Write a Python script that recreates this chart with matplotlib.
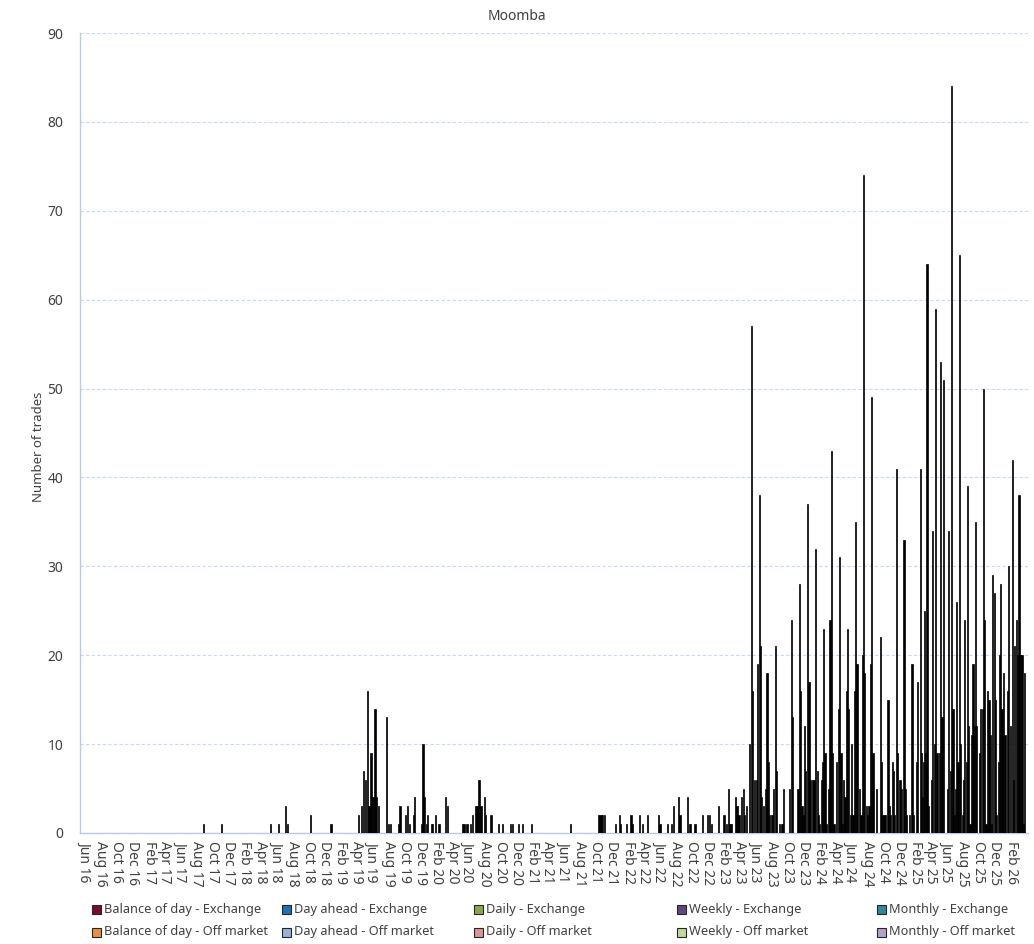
import matplotlib
matplotlib.use('Agg')
import matplotlib.pyplot as plt
from matplotlib.patches import Rectangle
import pandas as pd

plt.rcParams['font.family'] = ['Noto Sans', 'DejaVu Sans']

title = 'Moomba'
y_label = 'Number of trades'

series_names = ['Balance of day - Exchange', 'Day ahead - Exchange', 'Daily - Exchange',
                'Weekly - Exchange', 'Monthly - Exchange',
                'Balance of day - Off market', 'Day ahead - Off market', 'Daily - Off market',
                'Weekly - Off market', 'Monthly - Off market']
series_colours = ['#7b0c2a', '#2070b4', '#8aa84a', '#60497a', '#31859c',
                  '#e98f3f', '#95b3d7', '#d99694', '#c3d69b', '#b3a2c7']

# sparse trading, 2017 - Mar 2023
early_dates = ['2017-08-28', '2017-11-05', '2018-05-10', '2018-06-10', '2018-07-07', '2018-07-12',
               '2018-10-09', '2018-12-26', '2019-04-11', '2019-04-23', '2019-04-28', '2019-05-06',
               '2019-05-14', '2019-05-20', '2019-05-23', '2019-05-28', '2019-06-03', '2019-06-07',
               '2019-06-12', '2019-06-17', '2019-06-25', '2019-07-25', '2019-08-02', '2019-08-11',
               '2019-09-10', '2019-09-15', '2019-10-05', '2019-10-14', '2019-10-20', '2019-11-05',
               '2019-11-11', '2019-12-08', '2019-12-12', '2019-12-17', '2019-12-26', '2019-12-30',
               '2020-01-12', '2020-01-16', '2020-01-29', '2020-02-11', '2020-03-07', '2020-03-13',
               '2020-05-11', '2020-05-16', '2020-05-28', '2020-06-11', '2020-06-18', '2020-06-30',
               '2020-07-05', '2020-07-10', '2020-07-15', '2020-07-20', '2020-08-01', '2020-08-06',
               '2020-08-27', '2020-09-26', '2020-10-11', '2020-11-11', '2020-11-16', '2020-12-11',
               '2020-12-24', '2021-01-30', '2021-06-27', '2021-10-11', '2021-10-17', '2021-10-22',
               '2021-10-28', '2021-11-04', '2021-12-16', '2021-12-29', '2022-01-03', '2022-01-27',
               '2022-02-12', '2022-02-16', '2022-03-15', '2022-03-28', '2022-04-16', '2022-05-28',
               '2022-06-03', '2022-07-02', '2022-07-17', '2022-07-24', '2022-08-13', '2022-08-18',
               '2022-09-17', '2022-09-22', '2022-09-28', '2022-10-14', '2022-11-13', '2022-12-02',
               '2022-12-07', '2022-12-17', '2023-01-13', '2023-02-02', '2023-02-12', '2023-02-18',
               '2023-02-23', '2023-02-28', '2023-03-03', '2023-03-17', '2023-03-23', '2023-03-31']
early_trades = [1, 1, 1, 1, 3, 1,
                2, 1, 2, 3, 7, 6,
                16, 3, 3, 9, 4, 4,
                14, 4, 3, 13, 1, 1,
                1, 3, 2, 3, 1, 2,
                4, 1, 10, 4, 1, 2,
                1, 1, 2, 1, 4, 3,
                1, 1, 1, 1, 2, 3,
                3, 6, 6, 3, 4, 2,
                2, 1, 1, 1, 1, 1,
                1, 1, 1, 2, 2, 2,
                2, 2, 1, 2, 1, 1,
                2, 1, 2, 1, 2, 2,
                1, 1, 1, 3, 4, 2,
                4, 1, 1, 1, 2, 2,
                2, 1, 3, 2, 1, 5,
                1, 1, 1, 4, 3, 2]

# busy trading, Apr 2023 onwards
recent_dates = ['2023-04-11', '2023-04-17', '2023-04-21', '2023-04-30', '2023-05-11', '2023-05-17',
                '2023-05-22', '2023-05-30', '2023-06-05', '2023-06-11', '2023-06-16', '2023-06-22',
                '2023-06-26', '2023-07-01', '2023-07-11', '2023-07-16', '2023-07-22', '2023-07-26',
                '2023-08-01', '2023-08-05', '2023-08-11', '2023-08-17', '2023-08-21', '2023-09-01',
                '2023-09-11', '2023-09-18', '2023-10-11', '2023-10-16', '2023-10-21', '2023-11-11',
                '2023-11-16', '2023-11-22', '2023-11-26', '2023-12-01', '2023-12-07', '2023-12-10',
                '2023-12-18', '2023-12-23', '2023-12-30', '2024-01-05', '2024-01-11', '2024-01-18',
                '2024-01-23', '2024-01-28', '2024-02-02', '2024-02-07', '2024-02-12', '2024-02-17',
                '2024-02-22', '2024-02-27', '2024-03-05', '2024-03-12', '2024-03-18', '2024-03-22',
                '2024-03-27', '2024-04-07', '2024-04-13', '2024-04-18', '2024-04-23', '2024-04-28',
                '2024-05-03', '2024-05-08', '2024-05-13', '2024-05-18', '2024-05-23', '2024-05-28',
                '2024-06-03', '2024-06-08', '2024-06-13', '2024-06-18', '2024-06-23', '2024-07-03',
                '2024-07-08', '2024-07-13', '2024-07-18', '2024-07-23', '2024-07-28', '2024-08-03',
                '2024-08-08', '2024-08-13', '2024-08-18', '2024-08-23', '2024-09-04', '2024-09-19',
                '2024-09-24', '2024-09-28', '2024-10-04', '2024-10-09', '2024-10-19', '2024-10-24',
                '2024-10-29', '2024-11-04', '2024-11-09', '2024-11-14', '2024-11-19', '2024-11-24',
                '2024-12-04', '2024-12-09', '2024-12-19', '2024-12-24', '2024-12-29', '2025-01-09',
                '2025-01-19', '2025-01-24', '2025-02-04', '2025-02-09', '2025-02-20', '2025-02-24',
                '2025-02-28', '2025-03-02', '2025-03-07', '2025-03-12', '2025-03-17', '2025-03-23',
                '2025-04-04', '2025-04-08', '2025-04-13', '2025-04-19', '2025-04-24', '2025-05-03',
                '2025-05-08', '2025-05-13', '2025-05-19', '2025-06-03', '2025-06-08', '2025-06-14',
                '2025-06-19', '2025-06-24', '2025-06-29', '2025-07-04', '2025-07-08', '2025-07-13',
                '2025-07-19', '2025-07-24', '2025-07-29', '2025-08-03', '2025-08-08', '2025-08-13',
                '2025-08-18', '2025-08-23', '2025-08-28', '2025-09-03', '2025-09-08', '2025-09-13',
                '2025-09-18', '2025-09-23', '2025-10-03', '2025-10-08', '2025-10-13', '2025-10-18',
                '2025-10-23', '2025-10-28', '2025-11-03', '2025-11-08', '2025-11-13', '2025-11-18',
                '2025-11-23', '2025-11-28', '2025-12-03', '2025-12-08', '2025-12-13', '2025-12-18',
                '2025-12-23', '2025-12-28', '2026-01-03', '2026-01-08', '2026-01-18', '2026-01-23',
                '2026-01-28', '2026-02-05', '2026-02-10', '2026-02-15', '2026-02-20', '2026-02-25',
                '2026-03-03', '2026-03-08', '2026-03-14', '2026-03-20', '2026-03-25']
recent_trades = [4, 5, 2, 3, 10, 57,
                 16, 6, 6, 19, 38, 21,
                 4, 3, 5, 18, 8, 2,
                 2, 2, 5, 21, 7, 1,
                 1, 5, 5, 24, 13, 5,
                 28, 16, 3, 2, 12, 7,
                 37, 17, 6, 6, 6, 32,
                 7, 2, 1, 6, 8, 23,
                 9, 1, 5, 24, 43, 9,
                 1, 8, 14, 31, 9, 1,
                 6, 4, 16, 23, 14, 2,
                 10, 2, 16, 35, 19, 5,
                 2, 20, 74, 18, 3, 2,
                 3, 19, 49, 9, 5, 22,
                 8, 2, 2, 2, 15, 3,
                 2, 8, 7, 2, 41, 9,
                 6, 5, 33, 5, 2, 2,
                 19, 2, 8, 17, 41, 9,
                 4, 8, 25, 9, 64, 3,
                 6, 34, 10, 59, 9, 9,
                 53, 13, 51, 5, 34, 7,
                 84, 14, 2, 5, 26, 8,
                 65, 10, 2, 6, 24, 8,
                 39, 12, 1, 11, 19, 12,
                 35, 12, 9, 14, 14, 50,
                 24, 1, 16, 15, 11, 1,
                 29, 27, 15, 2, 8, 20,
                 28, 14, 18, 11, 16, 30,
                 12, 42, 6, 21, 24, 20,
                 38, 20, 20, 1, 18]

dates = pd.to_datetime(early_dates + recent_dates)
trades = early_trades + recent_trades

text_col = '#404040'
axis_col = '#b8cce4'

fig = plt.figure(figsize=(10.34, 9.44), dpi=100)
ax = fig.add_axes([80 / 1034, 1 - 833 / 944, 948 / 1034, 800 / 944])

ax.bar(dates, trades, width=4.5, color='black', edgecolor='black', linewidth=0.5, zorder=3)

ax.set_xlim(pd.Timestamp('2016-05-13'), pd.Timestamp('2026-04-06'))
ax.set_ylim(0, 90)
ax.set_yticks(range(0, 91, 10))
ticks = pd.date_range('2016-06-01', '2026-02-01', freq='2MS')
ax.set_xticks(ticks)
ax.set_xticklabels([t.strftime('%b %y') for t in ticks], rotation=270)

ax.tick_params(axis='both', length=0, labelsize=10, colors=text_col)
ax.tick_params(axis='y', pad=12)
ax.tick_params(axis='x', pad=6)
ax.yaxis.grid(True, color='#c6d9f1', linestyle=(0, (3, 2)), linewidth=0.8)
ax.set_axisbelow(True)
for s in ['top', 'right']:
    ax.spines[s].set_visible(False)
for s in ['left', 'bottom']:
    ax.spines[s].set_color(axis_col)
    ax.spines[s].set_linewidth(1.0)

fig.text(517 / 1034, 1 - 16 / 944, title, ha='center', va='center', fontsize=10, color=text_col)
fig.text(38 / 1034, 1 - 447 / 944, y_label, ha='center', va='center', rotation=90,
         fontsize=9.5, color=text_col)

# legend, two rows of five
col_x = [92, 282, 474, 677, 877]
row_y = [909, 932]
for i, (name, col) in enumerate(zip(series_names, series_colours)):
    r, c = divmod(i, 5)
    x0 = col_x[c] / 1034
    y0 = 1 - row_y[r] / 944
    fig.patches.append(Rectangle((x0, y0 - 4.5 / 944), 9 / 1034, 9 / 944,
                                 transform=fig.transFigure, facecolor=col,
                                 edgecolor='#262626', linewidth=0.8))
    fig.text(x0 + 12 / 1034, y0, name, ha='left', va='center', fontsize=9.2, color=text_col)

fig.savefig('out.png', dpi=100)
